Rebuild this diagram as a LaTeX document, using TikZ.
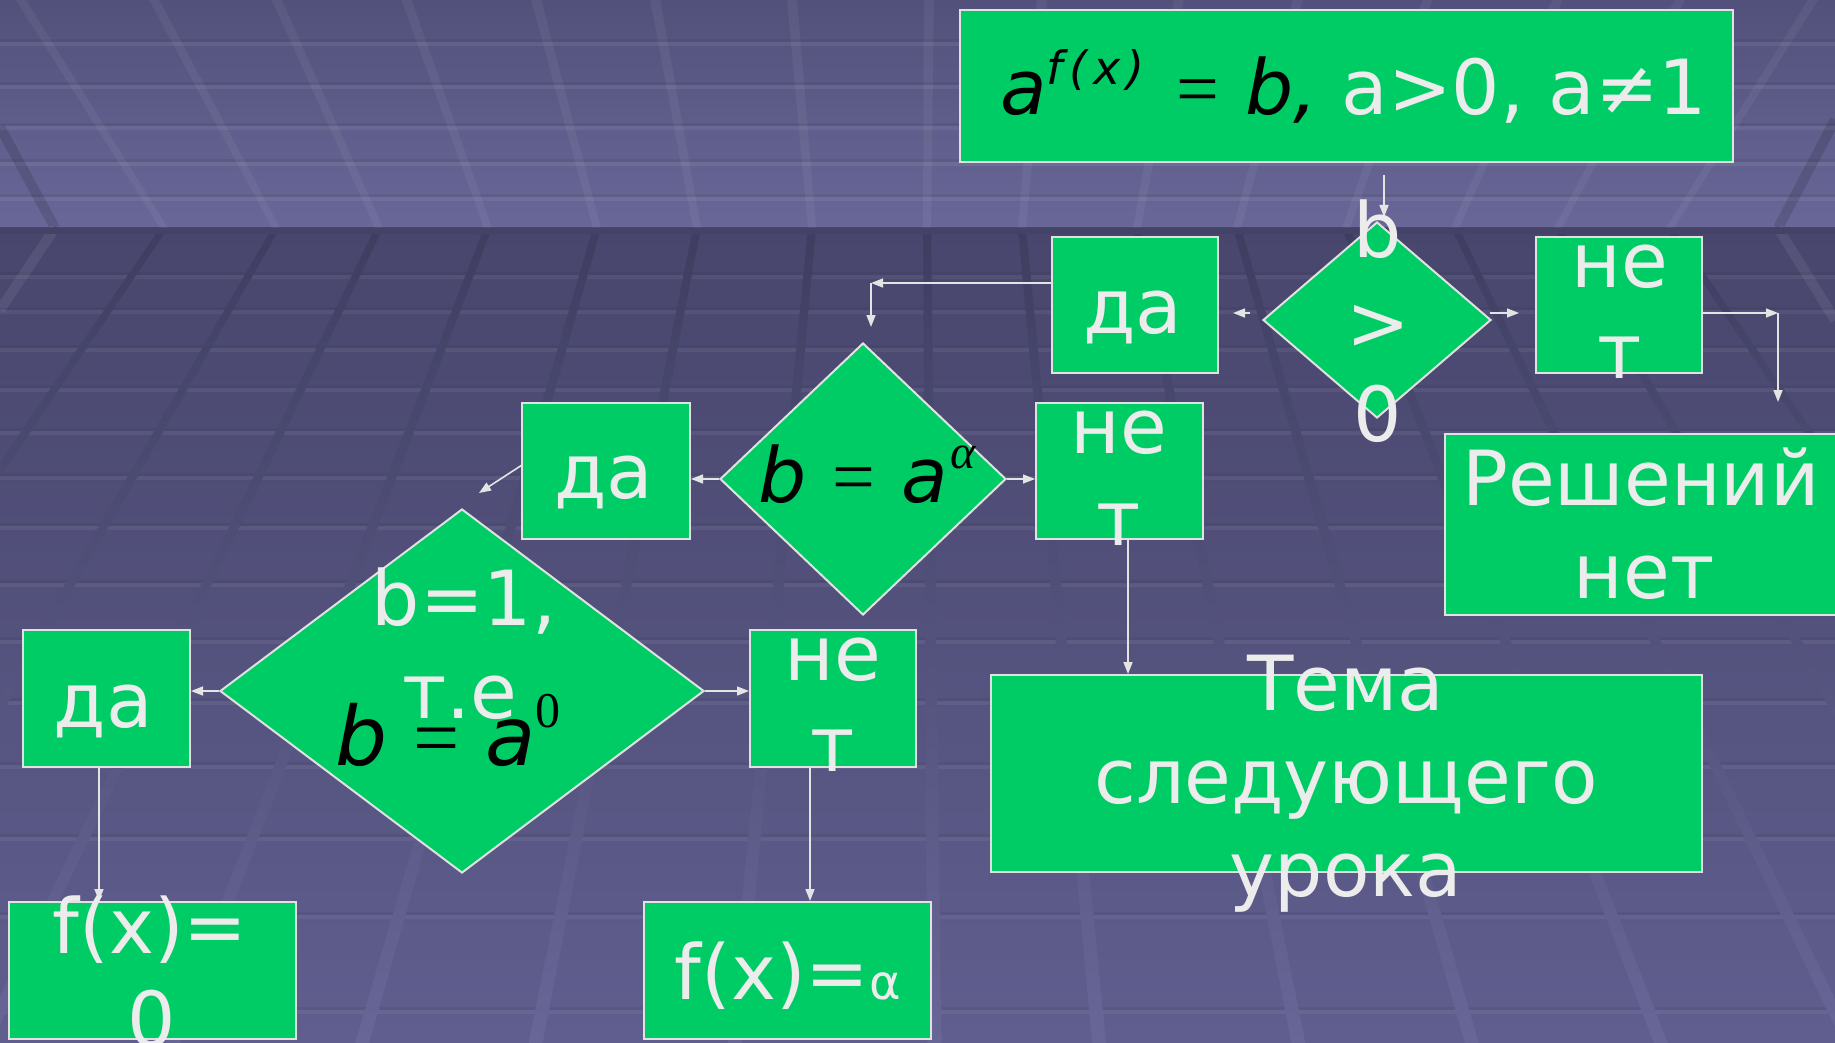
\documentclass[tikz,border=0pt]{standalone}
\usepackage{fontspec}
\setmainfont{DejaVu Sans}
\newfontfamily\seriffont{Liberation Serif}
\usetikzlibrary{arrows.meta,shapes.geometric}
\definecolor{gr}{RGB}{0,204,102}
\definecolor{wt}{RGB}{236,236,236}
\definecolor{edgec}{RGB}{225,225,225}
\definecolor{arrc}{RGB}{228,228,228}
\definecolor{ceilT}{RGB}{82,81,123}
\definecolor{ceilB}{RGB}{104,103,152}
\definecolor{floorT}{RGB}{72,70,108}
\definecolor{floorB}{RGB}{95,94,142}
\definecolor{flA}{RGB}{63,62,97}
\definecolor{flB}{RGB}{83,82,125}
\definecolor{flC}{RGB}{103,102,151}
\definecolor{horiz}{RGB}{68,66,102}
\newcommand\bigfs{\fontsize{38pt}{46pt}\selectfont}
\newcommand\eqs{{\seriffont\upshape =}}
\begin{document}
\begin{tikzpicture}[x=0.5pt,y=-0.5pt,
  box/.style={draw=edgec, line width=1pt, fill=gr, rectangle, inner sep=0pt},
  dia/.style={draw=edgec, line width=1pt, fill=gr, diamond, inner sep=0pt},
  txt/.style={text=wt, font=\bigfs, inner sep=0pt, anchor=base},
  blk/.style={text=black, font=\bigfs\itshape, inner sep=0pt, anchor=base west},
  arr/.style={draw=arrc, line width=0.8pt, -{Triangle[length=6pt,width=4.5pt]}}]
\useasboundingbox (0,0) rectangle (1835,1043);
% ---------- background ----------
\begin{scope}
\clip (0,0) rectangle (1835,1043);
\shade[top color=ceilT, bottom color=ceilB] (0,0) rectangle (1835,228);
\shade[top color=floorT, bottom color=floorB] (0,228) rectangle (1835,1043);
\foreach \yy in {42,85,126,162,197} {
  \fill[black,opacity=.06] (0,\yy-3) rectangle (1835,\yy);
  \fill[white,opacity=.07] (0,\yy) rectangle (1835,\yy+4);
}
\foreach \yy in {275,310,348,388,431,476,526,583,640,701,765,837,915,1010} {
  \fill[black,opacity=.05] (0,\yy-3) rectangle (1835,\yy);
  \fill[white,opacity=.06] (0,\yy) rectangle (1835,\yy+4);
}
\foreach \xh in {164,276,379,488,597,697,812,927,1022,1137,1237,1346,1455,1558,1670} {
  \pgfmathsetmacro\xt{\xh+0.19*(\xh-917)}
  \pgfmathsetmacro\xb{\xh+(\xh-917)*0.0009*815}
  \fill[white,opacity=.05] (\xh-4,228) -- (\xh+4,228) -- (\xt+5,0) -- (\xt-5,0) -- cycle;
  \shade[top color=flA, middle color=flB, bottom color=flC] (\xh-4,228) -- (\xh+4,228) -- (\xb+7,1043) -- (\xb-7,1043) -- cycle;
}
\draw[black,opacity=.12,line width=5pt] (0,127) -- (55,228);
\draw[white,opacity=.07,line width=5pt] (55,228) -- (0,310);
\draw[black,opacity=.12,line width=5pt] (1835,120) -- (1778,228);
\draw[white,opacity=.07,line width=5pt] (1778,228) -- (1835,320);
\fill[horiz] (0,228) rectangle (1835,234);
\end{scope}
% ---------- boxes ----------
\node[box, minimum width=386.5pt, minimum height=76pt] (B0) at (1346.5,86) {};
\node[box, minimum width=83pt, minimum height=68pt] (Y1) at (1135,305) {};
\node[box, minimum width=83pt, minimum height=68pt] (N1) at (1619,305) {};
\node[box, minimum width=196pt, minimum height=90.5pt] (R) at (1641,524.5) {};
\node[box, minimum width=84pt, minimum height=68pt] (Y2) at (606,471) {};
\node[box, minimum width=83.5pt, minimum height=68pt] (N2) at (1119.5,471) {};
\node[box, minimum width=355.5pt, minimum height=98.5pt] (T) at (1346.5,773.5) {};
\node[box, minimum width=83.5pt, minimum height=68.5pt] (Y3) at (106.5,698.5) {};
\node[box, minimum width=83pt, minimum height=68.5pt] (N3) at (833,698.5) {};
\node[box, minimum width=143.5pt, minimum height=68.5pt] (F0) at (152.5,970.5) {};
\node[box, minimum width=143.5pt, minimum height=68.5pt] (Fa) at (787.5,970.5) {};
\node[dia, minimum width=114pt, minimum height=98pt] (D1) at (1377,320) {};
\node[dia, minimum width=143pt, minimum height=136pt] (D2) at (863,479) {};
\node[dia, minimum width=242pt, minimum height=182pt] (D3) at (462,691) {};
% ---------- connectors ----------
\coordinate (a0s) at (1384,175); \coordinate (a0e) at (1384,217);
\draw[arr] (a0s) -- (a0e);
\coordinate (a1s) at (1250,313); \coordinate (a1e) at (1233,313);
\draw[arr] (a1s) -- (a1e);
\coordinate (a2s) at (1490,313); \coordinate (a2e) at (1519,313);
\draw[arr] (a2s) -- (a2e);
\coordinate (c3) at (1778,313); \coordinate (a3e) at (1778,402);
\draw[arr] (N1.east |- c3) -- (c3);
\draw[arr] (c3) -- (a3e);
\coordinate (c4) at (871,283); \coordinate (a4e) at (871,327);
\draw[arr] (Y1.west |- c4) -- (c4);
\draw[arr] (c4) -- (a4e);
\draw[arr] (D2.west) -- (Y2.east |- D2.west);
\draw[arr] (D2.east) -- (N2.west |- D2.east);
\coordinate (a7s) at (522,465); \coordinate (a7e) at (479,493);
\draw[arr] (a7s) -- (a7e);
\draw[arr] (D3.west) -- (Y3.east |- D3.west);
\draw[arr] (D3.east) -- (N3.west |- D3.east);
\coordinate (x10) at (99,0); \draw[arr] (Y3.south -| x10) -- (F0.north -| x10);
\coordinate (x11) at (810,0); \draw[arr] (N3.south -| x11) -- (Fa.north -| x11);
\coordinate (x12) at (1128,0); \draw[arr] (N2.south -| x12) -- (T.north -| x12);
% ---------- texts ----------
\node[anchor=base west, inner sep=0pt, font=\bigfs] (B0t) at (1000,115)
  {{\color{black}\itshape a\raisebox{15pt}{\fontsize{23pt}{23pt}\selectfont f\kern3pt(\kern3pt x\kern3pt)}\hspace{16pt}\eqs\hspace{13pt}b,}\textcolor{wt}{\ a>0, a≠1}};
\node[txt] (Y1t) at (1133,333) {да};
\node[txt] (N1a) at (1620,287) {не};
\node[txt] (N1b) at (1620,378) {т};
\node[txt] (D1a) at (1378,257) {b};
\node[txt] (D1b) at (1378,349) {>};
\node[txt] (D1c) at (1378,441) {0};
\node[txt] (Ra) at (1641,505) {Решений};
\node[txt] (Rb) at (1644,598) {нет};
\node[txt] (Y2t) at (604,498) {да};
\node[txt] (N2a) at (1119,453) {не};
\node[txt] (N2b) at (1119,545) {т};
\node[blk] (D2t) at (758,502) {b\hspace{13pt}\eqs\hspace{13pt}a\hspace{1pt}\raisebox{17pt}{\fontsize{24pt}{24pt}\seriffont\itshape α}};
\node[txt] (Ta) at (1346,710) {Тема};
\node[txt] (Tb) at (1346,803) {следующего};
\node[txt] (Tc) at (1346,896) {урока};
\node[txt] (Y3t) at (103.5,727) {да};
\node[txt] (N3a) at (833,680) {не};
\node[txt] (N3b) at (833,771) {т};
\node[txt] (D3a) at (464,625) {b=1,};
\node[txt] (D3b) at (460,718) {т.е};
\node[blk, font=\fontsize{41pt}{46pt}\selectfont\itshape] (D3m) at (335,765) {b\hspace{13pt}\eqs\hspace{13pt}a\raisebox{19pt}{\fontsize{25pt}{25pt}\seriffont\upshape 0}};
\node[txt] (F0a) at (150,953) {f(x)=};
\node[txt] (F0b) at (152,1046) {0};
\node[txt] (Fat) at (788,999) {f(x)={\fontsize{24pt}{24pt}\selectfont α}};
\end{tikzpicture}
\end{document}
